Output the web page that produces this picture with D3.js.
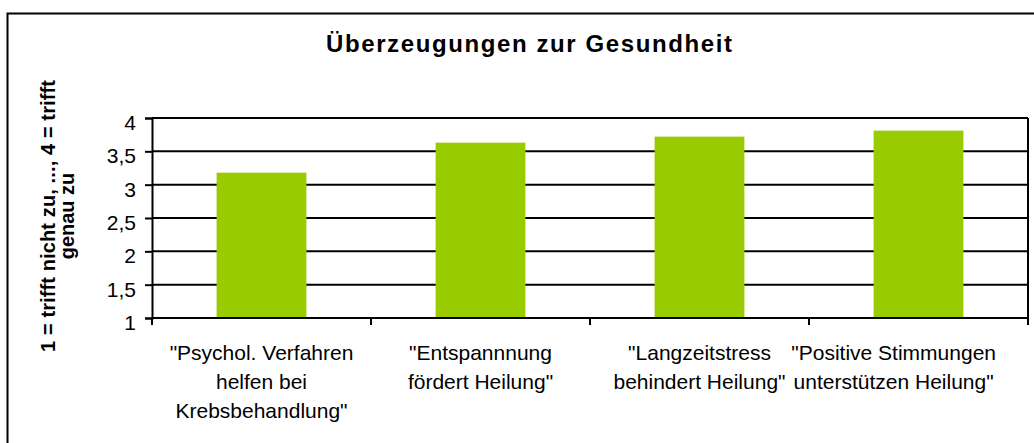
<!DOCTYPE html>
<html>
<head>
<meta charset="utf-8">
<script src="https://cdn.jsdelivr.net/npm/d3@7"></script>
<style>
  html, body { margin: 0; padding: 0; background: #fff; }
</style>
</head>
<body>
<script>
const WIDTH = 1034;
const HEIGHT = 443;
const PLOT = { left: 152, right: 1028, top: 118, bottom: 318 };
const FONT = "Arial, 'Liberation Sans', sans-serif";

const categories = [
  ["\"Psychol. Verfahren", "helfen bei", "Krebsbehandlung\""],
  ["\"Entspannnung", "fördert Heilung\""],
  ["\"Langzeitstress", "behindert Heilung\""],
  ["\"Positive Stimmungen", "unterstützen Heilung\""]
];
const values = [3.18, 3.63, 3.72, 3.81];
const yTicks = [1, 1.5, 2, 2.5, 3, 3.5, 4];
const title = "Überzeugungen zur Gesundheit";
const yTitle = ["1 = trifft nicht zu, ..., 4 = trifft", "genau zu"];

const svg = d3.select("body").append("svg")
  .attr("width", WIDTH)
  .attr("height", HEIGHT);

// chart area border (runs off the right/bottom edge like the original)
svg.append("rect")
  .attr("x", 7.5).attr("y", 13.5)
  .attr("width", WIDTH + 20).attr("height", HEIGHT + 20)
  .attr("fill", "#fff")
  .attr("stroke", "#000")
  .attr("stroke-width", 2);

const x = d3.scaleBand()
  .domain(d3.range(categories.length))
  .range([PLOT.left, PLOT.right])
  .paddingInner(0.59)
  .paddingOuter(0.295);

const xOuter = d3.scaleBand()
  .domain(d3.range(categories.length))
  .range([PLOT.left, PLOT.right]);

const y = d3.scaleLinear()
  .domain([1, 4])
  .range([PLOT.bottom, PLOT.top]);

// gridlines
svg.append("g")
  .selectAll("line")
  .data(yTicks.slice(1))
  .join("line")
  .attr("x1", PLOT.left).attr("x2", PLOT.right)
  .attr("y1", d => y(d)).attr("y2", d => y(d))
  .attr("stroke", "#000")
  .attr("stroke-width", 2);

// right edge of plot
svg.append("line")
  .attr("x1", PLOT.right).attr("x2", PLOT.right)
  .attr("y1", PLOT.top).attr("y2", PLOT.bottom)
  .attr("stroke", "#000").attr("stroke-width", 2);

// bars
svg.append("g")
  .selectAll("rect")
  .data(values)
  .join("rect")
  .attr("x", (d, i) => x(i))
  .attr("width", x.bandwidth())
  .attr("y", d => y(d))
  .attr("height", d => y(1) - y(d))
  .attr("fill", "#99CC00");

// Y axis
const yAxis = svg.append("g")
  .attr("transform", `translate(${PLOT.left},0)`)
  .call(d3.axisLeft(y).tickValues(yTicks).tickSize(7).tickPadding(9)
    .tickFormat(d => String(d).replace(".", ",")));
yAxis.select(".domain").attr("stroke", "#000").attr("stroke-width", 2);
yAxis.selectAll(".tick line").attr("stroke", "#000").attr("stroke-width", 2);
yAxis.selectAll(".tick text")
  .attr("fill", "#000")
  .attr("font-size", "21px")
  .attr("font-family", FONT)
  .attr("dy", "0.55em");

// X axis line + ticks at band boundaries
svg.append("line")
  .attr("x1", PLOT.left).attr("x2", PLOT.right)
  .attr("y1", PLOT.bottom).attr("y2", PLOT.bottom)
  .attr("stroke", "#000").attr("stroke-width", 2);
svg.append("g")
  .selectAll("line")
  .data(d3.range(categories.length + 1))
  .join("line")
  .attr("x1", i => i < categories.length ? xOuter(i) : PLOT.right)
  .attr("x2", i => i < categories.length ? xOuter(i) : PLOT.right)
  .attr("y1", PLOT.bottom).attr("y2", PLOT.bottom + 7)
  .attr("stroke", "#000").attr("stroke-width", 2);

// category labels, kept inside the chart like Excel does
const labels = svg.append("g")
  .selectAll("text")
  .data(categories)
  .join("text")
  .attr("text-anchor", "middle")
  .attr("font-size", "21px")
  .attr("font-family", FONT)
  .attr("fill", "#000");
labels.selectAll("tspan")
  .data(d => d)
  .join("tspan")
  .attr("y", (d, j) => 360 + j * 29)
  .text(d => d);
labels.each(function (d, i) {
  let cx = xOuter(i) + xOuter.bandwidth() / 2;
  let w = 0;
  d3.select(this).selectAll("tspan").each(function () {
    w = Math.max(w, this.getComputedTextLength());
  });
  if (cx + w / 2 > 996) cx = 996 - w / 2;
  d3.select(this).selectAll("tspan").attr("x", cx);
});

// title
svg.append("text")
  .attr("x", 529)
  .attr("y", 52)
  .attr("text-anchor", "middle")
  .attr("font-size", "24px")
  .attr("font-weight", "bold")
  .attr("font-family", FONT)
  .attr("fill", "#000")
  .attr("textLength", 406)
  .attr("lengthAdjust", "spacing")
  .text(title);

// y axis title
svg.append("text")
  .attr("transform", "translate(55,216) rotate(-90)")
  .attr("text-anchor", "middle")
  .attr("font-size", "20px")
  .attr("font-weight", "bold")
  .attr("font-family", FONT)
  .attr("fill", "#000")
  .selectAll("tspan")
  .data(yTitle)
  .join("tspan")
  .attr("x", 0)
  .attr("y", (d, j) => j * 19)
  .attr("textLength", (d, j) => j === 0 ? 272 : null)
  .attr("lengthAdjust", "spacing")
  .text(d => d);
</script>
</body>
</html>
